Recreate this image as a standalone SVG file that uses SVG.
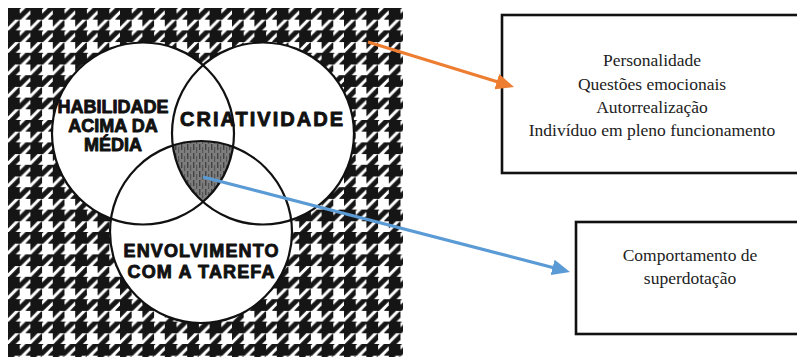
<svg xmlns="http://www.w3.org/2000/svg" width="797" height="357" viewBox="0 0 797 357">
  <style>
    .ring { fill: none; stroke: #111; stroke-width: 2.2; }
    .disc { fill: #fff; }
    .vt { font-family: "Liberation Sans", Arial, sans-serif; font-weight: 900; fill: #111; stroke: #111; stroke-width: 0.9; stroke-linejoin: round; text-anchor: middle; }
    .box { fill: #fff; stroke: #111; stroke-width: 2.6; }
    .bt { font-family: "Liberation Serif", "Times New Roman", serif; font-size: 17.5px; fill: #222; text-anchor: middle; }
    .arrow-o { stroke: #ED7D31; stroke-width: 3.2; fill: none; }
    .arrow-b { stroke: #5B9BD5; stroke-width: 3.2; fill: none; }
  </style>
  <defs>
    <pattern id="hound" patternUnits="userSpaceOnUse" x="0" y="0" width="8" height="8" patternTransform="translate(8 8) scale(2.8)">
      <rect width="8" height="8" fill="#fff"/>
      <path fill="#151515" stroke="#151515" stroke-width="0.35" stroke-linejoin="round" d="M0 0H4V4H0Z M6.5 0H8V0.5L4.5 4H4V2.5Z M8 2.5V4H6.5Z M4 0H4.5L4 0.5Z M0.5 4H2.5L0 6.5V4.5Z M4 4.5V6.5L2.5 8H0.5Z"/>
    </pattern>
    <pattern id="grain" patternUnits="userSpaceOnUse" width="6" height="9">
      <rect width="6" height="9" fill="#7d7d7d"/>
      <rect x="1" y="0" width="1.4" height="6" fill="#444"/>
      <rect x="4" y="3" width="1.2" height="6" fill="#555"/>
    </pattern>
    <clipPath id="clipL"><circle cx="143" cy="133.5" r="91"/></clipPath>
    <clipPath id="clipR"><circle cx="263" cy="133.5" r="91"/></clipPath>
    <marker id="headO" markerUnits="userSpaceOnUse" markerWidth="19" markerHeight="16" refX="9" refY="8" orient="auto">
      <path d="M0,0 L18,8 L0,16 z" fill="#ED7D31"/>
    </marker>
    <marker id="headB" markerUnits="userSpaceOnUse" markerWidth="19" markerHeight="16" refX="9" refY="8" orient="auto">
      <path d="M0,0 L18,8 L0,16 z" fill="#5B9BD5"/>
    </marker>
  </defs>

  <rect width="797" height="357" fill="#fff"/>

  <g id="venn">
    <rect x="8" y="8" width="395" height="349" fill="url(#hound)"/>
    <circle class="disc" cx="143" cy="133.5" r="91"/>
    <circle class="disc" cx="263" cy="133.5" r="91"/>
    <circle class="disc" cx="201" cy="232" r="91"/>
    <g clip-path="url(#clipL)">
      <g clip-path="url(#clipR)">
        <circle cx="201" cy="232" r="91" fill="url(#grain)"/>
      </g>
    </g>
  </g>

  <g id="circle-habilidade">
    <circle class="ring" cx="143" cy="133.5" r="91"/>
    <text class="vt" font-size="18" x="113" y="113">HABILIDADE</text>
    <text class="vt" font-size="18" x="113" y="132">ACIMA DA</text>
    <text class="vt" font-size="18" x="113" y="151">MÉDIA</text>
  </g>

  <g id="circle-criatividade">
    <circle class="ring" cx="263" cy="133.5" r="91"/>
    <text class="vt" font-size="20" x="261.5" y="126" textLength="163">CRIATIVIDADE</text>
  </g>

  <g id="circle-envolvimento">
    <circle class="ring" cx="201" cy="232" r="91"/>
    <text class="vt" font-size="18" x="201" y="257" textLength="155">ENVOLVIMENTO</text>
    <text class="vt" font-size="18" x="201" y="278" textLength="147">COM A TAREFA</text>
  </g>

  <g id="box-personalidade">
    <rect class="box" x="502" y="15" width="300" height="158"/>
    <text class="bt" x="652" y="66">Personalidade</text>
    <text class="bt" x="652" y="90">Questões emocionais</text>
    <text class="bt" x="652" y="113">Autorrealização</text>
    <text class="bt" x="652" y="136">Indivíduo em pleno funcionamento</text>
  </g>

  <g id="box-comportamento">
    <rect class="box" x="576" y="222" width="226" height="112"/>
    <text class="bt" x="690" y="261">Comportamento de</text>
    <text class="bt" x="690" y="284">superdotação</text>
  </g>

  <g id="connectors">
    <line class="arrow-o" x1="368" y1="42" x2="505.4" y2="84.3" marker-end="url(#headO)"/>
    <line class="arrow-b" x1="203" y1="177" x2="561.3" y2="269.7" marker-end="url(#headB)"/>
  </g>
</svg>
